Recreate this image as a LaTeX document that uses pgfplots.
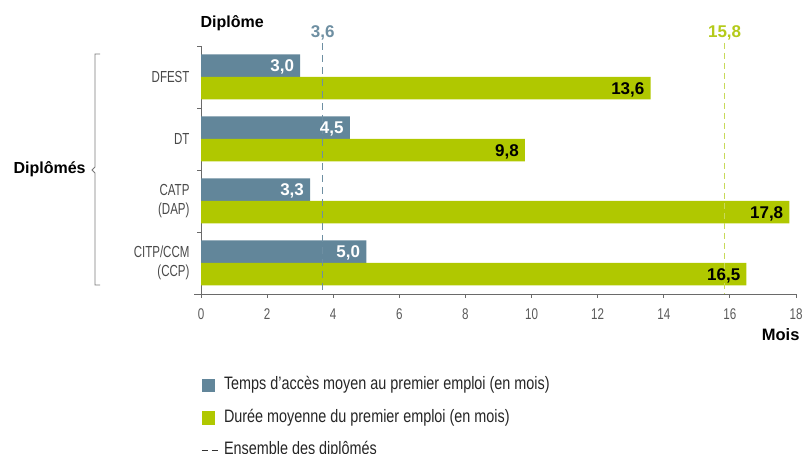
\documentclass[border=0pt]{standalone}
\usepackage{pgfplots}
\pgfplotsset{compat=1.18}
\usepackage{fontspec}
\setmainfont{Liberation Sans}
\newfontfamily\catfont[FakeStretch=0.72]{Liberation Sans}
\newfontfamily\tickfont[FakeStretch=0.75]{Liberation Sans}
\newfontfamily\legfont[FakeStretch=0.8]{Liberation Sans}
\definecolor{bluec}{HTML}{62869A}
\definecolor{greenc}{HTML}{B0C800}
\definecolor{bluedash}{HTML}{6E8FA2}
\definecolor{greendash}{HTML}{C8DA5A}
\definecolor{greenlab}{HTML}{B4CA1A}
\definecolor{axisgray}{HTML}{6A6A6A}
\definecolor{ticktext}{HTML}{5A5A5A}
\definecolor{labtext}{HTML}{4A4A4A}
\pgfplotsset{
  barvals/.style 2 args={
    nodes near coords={\pgfmathprintnumber[fixed,fixed zerofill,precision=1,use comma,assume math mode=true]{\pgfplotspointmeta}},
    point meta=x,
    every node near coord/.append style={anchor=base east, inner sep=0pt, xshift=-6pt, yshift=#2, font=\bfseries\fontsize{17}{20}\selectfont, text=#1},
  },
}
\begin{document}
\begin{tikzpicture}
\begin{axis}[
  at={(201pt,160pt)}, anchor=south west,
  scale only axis, width=595pt, height=248pt,
  xmin=0, xmax=18, ymin=-0.5, ymax=3.5, y dir=reverse,
  bar width=22.5pt,
  axis x line*=bottom, axis y line*=left,
  axis line style={axisgray, line width=0.8pt, -},
  xtick={0,2,...,18}, tick align=outside, major tick length=4pt,
  xtick style={axisgray, line width=0.8pt},
  ytick={0,1,2,3},
  yticklabels={DFEST,DT,{CATP\\(DAP)},{CITP/CCM\\(CCP)}},
  ytick style={draw=none},
  yticklabel style={align=right, font=\catfont\fontsize{16}{19}\selectfont, text=labtext, xshift=-4pt},
  xticklabel style={font=\tickfont\fontsize{15.5}{18}\selectfont, text=ticktext, yshift=-7pt},
  /pgf/number format/assume math mode=true,
  legend cell align=left,
  legend style={at={(0,0)}, anchor=north west, yshift=-83pt,
    draw=none, fill=none, inner sep=0pt, outer sep=0pt,
    row sep=15.5pt,
    nodes={inner sep=0pt, text height=13pt, text depth=4pt, font=\legfont\fontsize{18}{21}\selectfont, text=black!85},
    /tikz/every odd column/.append style={column sep=5pt}},
  clip=false,
]
\addplot[xbar, fill=bluec, draw=none, bar shift=11.25pt, barvals={white}{5.2pt},
  legend image code/.code={\fill[bluec] (0pt,-6.5pt) rectangle (13pt,6.5pt);}]
  coordinates {(3.0,0) (4.5,1) (3.3,2) (5.0,3)};
\addlegendentry{Temps d’accès moyen au premier emploi (en mois)}
\addplot[xbar, fill=greenc, draw=none, bar shift=-11.25pt, barvals={black}{-17.3pt},
  legend image code/.code={\fill[greenc] (0pt,-6.5pt) rectangle (13pt,6.5pt);}]
  coordinates {(13.6,0) (9.8,1) (17.8,2) (16.5,3)};
\addlegendentry{Durée moyenne du premier emploi (en mois)}
\addlegendimage{legend image code/.code={\draw[black!80, line width=1pt, dash pattern=on 6pt off 4pt] (0pt,0pt) -- (17pt,0pt);}}
\addlegendentry{Ensemble des diplômés}
% reference lines (ensemble des diplomes)
\addplot[forget plot, bluedash, line width=1pt, dash pattern=on 7pt off 5pt] coordinates {(3.68,-0.55) (3.68,3.5)};
\addplot[forget plot, greendash, line width=1.5pt, dash pattern=on 6pt off 4pt] coordinates {(15.84,-0.55) (15.84,3.5)};
\node[anchor=base, yshift=8pt, text=bluedash, font=\bfseries\fontsize{17}{20}\selectfont] at (axis cs:3.68,-0.5) {3,6};
\node[anchor=base, yshift=8pt, text=greenlab, font=\bfseries\fontsize{17}{20}\selectfont] at (axis cs:15.84,-0.5) {15,8};
% group separators on the y axis
\draw[axisgray, line width=0.8pt] (axis cs:0,-0.5) -- ++(-4pt,0pt);
\draw[axisgray, line width=0.8pt] (axis cs:0,0.5) -- ++(-4pt,0pt);
\draw[axisgray, line width=0.8pt] (axis cs:0,1.5) -- ++(-4pt,0pt);
\draw[axisgray, line width=0.8pt] (axis cs:0,2.5) -- ++(-4pt,0pt);
\draw[axisgray, line width=0.8pt] (axis cs:0,3.5) -- ++(-7pt,0pt);
\end{axis}
% titles
\node[anchor=base west, font=\bfseries\fontsize{16}{19}\selectfont] at (197pt,426pt) {Diplôme};
\node[anchor=base east, font=\bfseries\fontsize{16.5}{19}\selectfont] at (803pt,113pt) {Mois};
\node[anchor=base west, font=\bfseries\fontsize{16}{19}\selectfont] at (10pt,280pt) {Diplômés};
% brace
\draw[axisgray!90, line width=0.8pt] (100pt,400pt) -- (95pt,400pt) -- (95pt,287pt) -- (92pt,284pt) -- (95pt,281pt) -- (95pt,169pt) -- (100pt,169pt);
\pgfresetboundingbox
\useasboundingbox (0pt,0pt) rectangle (806pt,454pt);
\end{tikzpicture}
\end{document}
